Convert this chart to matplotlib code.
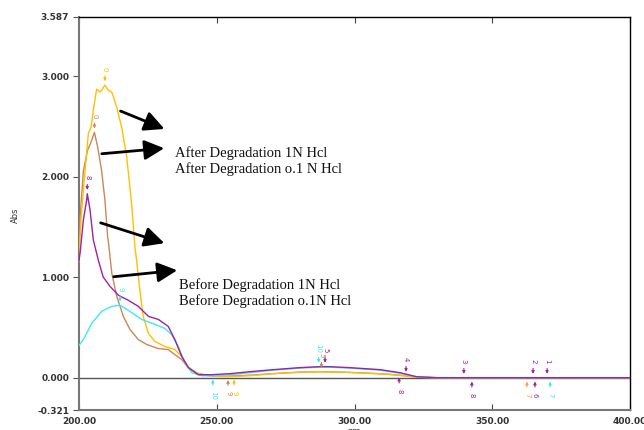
import matplotlib
matplotlib.use("Agg")
import matplotlib.pyplot as plt

# ---- data ----
after_1n_nm = [200, 201.0, 202.2, 203.4, 204.4, 205.2, 206.4, 207.6, 208.5, 209.4, 210.6, 211.9,
               213.7, 215.5, 217.3, 219.1, 220.3, 220.9, 222.1, 223.3, 225.2, 227.6, 231.2, 234.8,
               237.3, 239.7, 242.1, 246.9, 253.6, 262, 270, 280, 287.5, 296, 305, 312, 318, 322.5, 330, 400]
after_1n_abs = [1.25, 1.67, 2.06, 2.43, 2.49, 2.66, 2.87, 2.84, 2.87, 2.91, 2.86, 2.84,
                2.69, 2.49, 2.20, 1.73, 1.30, 1.17, 0.87, 0.61, 0.44, 0.36, 0.31, 0.28,
                0.21, 0.11, 0.05, 0.02, 0.01, 0.02, 0.04, 0.055, 0.06, 0.055, 0.045, 0.035, 0.02, 0.005, 0.0, 0.0]

after_01n_nm = [200, 200.4, 201.6, 203.1, 204.6, 205.6, 206.8, 208.2, 209.4, 210.4, 210.6, 211.9,
                213.7, 216.1, 218.5, 221.5, 224.6, 228.8, 232.4, 234.8, 237.3, 239.7, 243.3, 248,
                253.6, 262, 270, 280, 287.5, 296, 305, 312, 318, 322.5, 330, 400]
after_01n_abs = [1.15, 1.60, 2.06, 2.26, 2.36, 2.44, 2.29, 2.06, 1.77, 1.40, 1.37, 1.04,
                 0.81, 0.61, 0.48, 0.38, 0.33, 0.29, 0.28, 0.23, 0.18, 0.10, 0.04, 0.02,
                 0.015, 0.025, 0.04, 0.055, 0.06, 0.055, 0.045, 0.035, 0.02, 0.005, 0.0, 0.0]

before_1n_nm = [200, 200.4, 201.6, 202.8, 203.0, 204.0, 205.2, 207.0, 208.8, 211.2, 214.3, 217.9,
                221.5, 225.2, 228.8, 232.4, 234.8, 237.3, 239.7, 243.3, 248, 254.8, 262, 270.5,
                280, 287.5, 291, 298.4, 309.3, 316.5, 322.5, 330, 400]
before_1n_abs = [1.17, 1.24, 1.57, 1.77, 1.83, 1.67, 1.37, 1.17, 1.00, 0.91, 0.82, 0.77,
                 0.71, 0.61, 0.58, 0.51, 0.38, 0.21, 0.10, 0.03, 0.03, 0.04, 0.06, 0.08,
                 0.10, 0.11, 0.11, 0.10, 0.08, 0.05, 0.01, 0.0, 0.0]

before_01n_nm = [200, 201.6, 204.6, 208.2, 211.9, 214.9, 217.9, 222.7, 227.6, 231.2, 233.6, 236.0,
                 238.5, 240.9, 244.5, 248, 254.8, 262, 270.5, 280, 287.5, 291, 298.4, 309.3,
                 316.5, 322.5, 330, 400]
before_01n_abs = [0.32, 0.38, 0.54, 0.66, 0.71, 0.72, 0.67, 0.58, 0.53, 0.49, 0.43, 0.31,
                  0.15, 0.05, 0.02, 0.02, 0.03, 0.05, 0.075, 0.095, 0.105, 0.105, 0.095, 0.075,
                  0.045, 0.01, 0.0, 0.0]

series_colors = ["#FFC000", "#C8885A", "#A020A8", "#40E8F0"]

# peak pick labels: (nm, abs, text, colour, above?)
peak_nm = [209.4, 205.6, 203.0, 214.9, 289.3, 288.0, 287.0, 318.7, 339.7, 364.8, 369.9,
           248.6, 254.1, 256.3, 316.2, 342.6, 362.6, 365.5, 371.0]
peak_abs = [2.91, 2.44, 1.83, 0.72, 0.11, 0.06, 0.11, 0.02, 0.0, 0.0, 0.0,
            0.02, 0.015, 0.02, 0.04, 0.0, 0.0, 0.0, 0.0]
peak_text = ["0", "0", "8", "9", "5", "5", "10", "4", "3", "2", "1",
             "10", "9", "9", "8", "8", "7", "6", "7"]
peak_col = ["#FFC000", "#C8885A", "#A020A8", "#40E8F0", "#A020A8", "#C8885A", "#40E8F0",
            "#A020A8", "#A020A8", "#A020A8", "#A020A8",
            "#40E8F0", "#C8885A", "#FFC000", "#A020A8", "#A020A8", "#FFA040", "#A020A8", "#40E8F0"]
peak_up = [True] * 11 + [False] * 8

y_ticks = [-0.321, 0.0, 1.0, 2.0, 3.0, 3.587]
y_ticklabels = ["-0.321", "0.000", "1.000", "2.000", "3.000", "3.587"]
x_ticks = [200, 250, 300, 350, 400]
x_ticklabels = ["200.00", "250.00", "300.00", "350.00", "400.00"]

annot_text = ["After Degradation 1N Hcl\nAfter Degradation o.1 N Hcl",
              "Before Degradation 1N Hcl\nBefore Degradation o.1N Hcl"]

# ---- figure ----
fig = plt.figure(figsize=(6.44, 4.30), dpi=100)
ax = fig.add_axes([79 / 644, 1 - 410 / 430, (630 - 79) / 644, (410 - 17) / 430])
ax.set_xlim(200, 400)
ax.set_ylim(-0.321, 3.587)

ax.axhline(0, color="#555555", lw=1.0, zorder=1)

for xs, ys, c in zip([after_01n_nm, after_1n_nm, before_01n_nm, before_1n_nm],
                     [after_01n_abs, after_1n_abs, before_01n_abs, before_1n_abs],
                     [series_colors[1], series_colors[0], series_colors[3], series_colors[2]]):
    ax.plot(xs, ys, color=c, lw=1.0, zorder=3)

# peak markers
for xv, yv, t, c, up in zip(peak_nm, peak_abs, peak_text, peak_col, peak_up):
    if up:
        ax.annotate("", xy=(xv, yv + 0.01), xytext=(xv, yv + 0.12),
                    arrowprops=dict(arrowstyle="-|>", color=c, lw=0.8, mutation_scale=4), zorder=4)
        ax.text(xv, yv + 0.14, t, color=c, fontsize=5, rotation=-90, ha="center", va="bottom")
    else:
        ax.annotate("", xy=(xv, yv - 0.01), xytext=(xv, yv - 0.12),
                    arrowprops=dict(arrowstyle="-|>", color=c, lw=0.8, mutation_scale=4), zorder=4)
        ax.text(xv, yv - 0.15, t, color=c, fontsize=5, rotation=-90, ha="center", va="top")

# black arrows (figure pixel -> data)
def px2d(px, py):
    return (200 + (px - 79) / 551 * 200, 3.587 - (py - 17) / 393 * 3.908)

arrows = [((118, 110), (167, 130)), ((99, 154), (167, 148)),
          ((98, 222), (167, 244)), ((111, 277), (180, 270))]
for (s, e) in arrows:
    ax.annotate("", xy=px2d(*e), xytext=px2d(*s),
                arrowprops=dict(arrowstyle="-|>,head_length=1.2,head_width=0.6",
                                color="black", lw=2.0, mutation_scale=10), zorder=5)

ax.text(*px2d(175, 161), annot_text[0], fontsize=10.5, family="Liberation Serif",
        va="center", ha="left", linespacing=1.25, color="#111111")
ax.text(*px2d(179, 293), annot_text[1], fontsize=10.5, family="Liberation Serif",
        va="center", ha="left", linespacing=1.25, color="#111111")

# axes styling
for side in ["left", "bottom"]:
    ax.spines[side].set_color("#777777")
    ax.spines[side].set_linewidth(1.5)
for side in ["top", "right"]:
    ax.spines[side].set_color("black")
    ax.spines[side].set_linewidth(1.0)

ax.set_yticks(y_ticks)
ax.set_yticklabels(y_ticklabels)
ax.set_xticks(x_ticks)
ax.set_xticklabels(x_ticklabels)
ax.tick_params(axis="y", direction="out", length=4, color="#555555", labelsize=6.5,
               labelcolor="#333333", pad=3)
ax.tick_params(axis="x", direction="in", length=4, color="#444444", labelsize=6.5,
               labelcolor="#333333", top=True, pad=5)
for lbl in ax.get_xticklabels() + ax.get_yticklabels():
    lbl.set_fontweight("bold")

fig.text(15 / 644, 1 - 215 / 430, "Abs", rotation=90, fontsize=6, color="#333333",
         ha="center", va="center")
fig.text(354 / 644, 1 - 431 / 430, "nm", fontsize=6, color="#333333", ha="center", va="center")

fig.savefig("out.png", dpi=100)
